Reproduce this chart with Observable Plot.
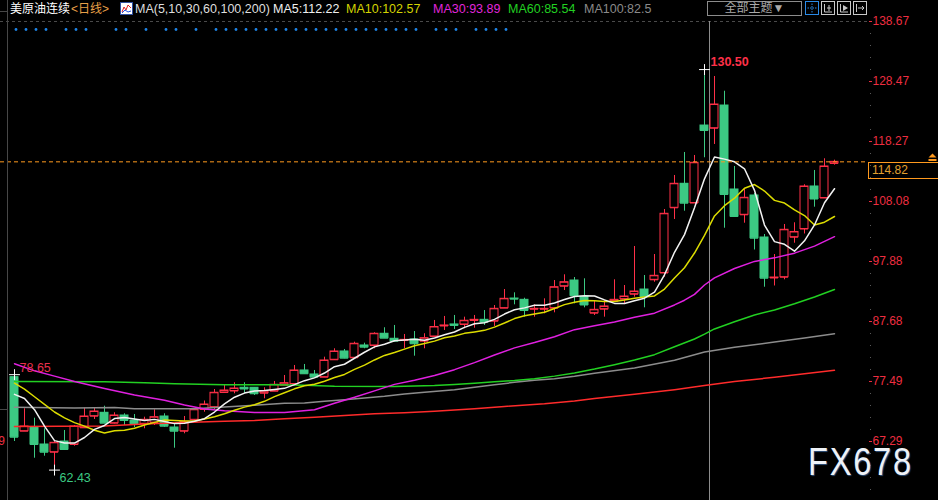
<!DOCTYPE html>
<html><head><meta charset="utf-8">
<script src="https://cdn.jsdelivr.net/npm/d3@7"></script>
<script src="https://cdn.jsdelivr.net/npm/@observablehq/plot@0.6"></script>
<style>
html,body{margin:0;padding:0;background:#000;}
#wrap{position:relative;width:938px;height:500px;overflow:hidden;background:#000;font-family:"Liberation Sans","Noto Sans CJK SC",sans-serif;}
#wrap svg{position:absolute;left:0;top:0;}
.ab{position:absolute;white-space:nowrap;}
.hdr{position:absolute;top:2px;font-size:12.5px;line-height:14px;white-space:nowrap;}
</style></head><body><div id="wrap"></div>
<script>
// ---------- data ----------
const open  = [78.22,69.04,69.72,66.78,65.47,67.29,66.78,69.62,71.59,72.17,70.40,71.71,70.86,70.30,70.50,71.54,69.67,69.04,70.98,72.73,73.12,75.62,75.87,76.42,76.42,75.50,75.84,76.86,77.06,79.36,78.68,78.22,81.18,82.59,81.52,83.61,83.61,85.60,84.75,84.45,84.63,84.34,85.14,86.92,87.18,87.18,87.86,87.97,87.74,89.95,91.59,91.37,89.78,89.78,89.95,93.68,94.65,91.88,89.10,89.78,91.14,91.48,92.32,93.12,94.77,95.93,107.01,111.09,107.82,120.99,120.53,124.39,110.12,105.82,109.10,101.96,95.08,95.21,102.01,103.40,110.63,108.67,114.55];
const high  = [78.65,72.85,71.25,69.45,67.35,69.16,70.01,72.95,72.95,73.29,72.17,72.00,71.88,71.42,72.68,72.00,70.30,71.54,72.73,74.17,76.13,76.81,77.27,77.27,76.47,76.42,77.49,78.51,80.21,80.38,79.36,81.62,83.05,82.93,84.17,84.00,85.77,86.62,87.01,85.48,85.98,85.60,87.86,88.54,88.71,88.42,88.71,89.55,90.40,93.12,92.56,91.64,90.52,91.54,94.65,95.62,95.16,94.94,91.25,91.25,94.77,93.80,100.43,95.50,99.07,106.72,112.50,116.41,115.90,130.50,129.32,126.82,114.03,110.24,109.44,102.47,99.07,104.17,104.46,110.92,113.35,115.34,115.10];
const low   = [67.29,69.00,64.45,64.79,62.43,65.77,66.49,69.50,71.03,70.35,70.27,70.01,69.67,69.45,70.01,69.72,66.15,68.60,70.81,72.27,72.68,75.50,75.40,75.45,75.11,74.55,75.79,76.81,76.98,78.76,78.12,78.17,81.14,81.35,81.40,83.05,83.05,84.80,84.17,83.05,81.79,83.05,85.05,86.16,86.33,86.45,86.55,87.01,86.84,89.89,90.52,88.42,88.42,88.99,89.16,92.95,90.69,90.01,88.71,88.42,91.08,90.69,91.82,90.01,94.36,95.21,105.02,106.43,107.74,115.51,117.77,103.54,105.45,104.39,99.84,93.51,93.72,94.77,100.99,102.56,107.11,108.59,114.25];
const close = [68.02,69.84,66.78,65.47,67.07,65.93,69.84,71.54,72.39,70.40,71.71,70.86,70.30,70.98,71.42,69.89,69.04,70.64,72.68,73.58,75.57,75.96,76.30,76.21,75.40,75.84,76.93,77.20,79.36,78.80,78.22,81.06,82.59,81.45,83.90,83.32,85.60,84.85,84.34,84.57,83.90,84.85,86.75,87.01,87.01,87.81,87.97,87.57,89.84,91.54,91.48,89.55,89.84,89.84,93.51,94.36,92.05,90.49,89.67,90.24,91.37,91.93,92.78,91.93,95.45,105.99,111.09,107.79,114.66,120.14,124.56,109.27,105.53,108.71,101.84,95.04,95.16,103.27,102.90,110.63,108.50,114.03,114.82];

const ma5  = [75.3,74.6,72.7,69.9,67.44,67.02,67.02,67.97,69.35,70.02,71.18,71.38,71.13,70.85,71.05,70.69,70.33,70.39,70.73,71.17,72.30,73.69,74.82,75.52,75.89,75.94,76.14,76.32,76.95,77.63,78.10,78.93,80.01,80.42,81.44,82.46,83.37,83.82,84.40,84.54,84.65,84.50,84.88,85.42,85.90,86.69,87.31,87.47,88.04,88.95,89.68,90.00,90.45,90.45,90.84,91.42,91.92,92.05,92.02,91.36,90.76,90.74,91.20,91.65,92.69,95.62,99.45,102.45,107.00,111.93,115.65,115.28,114.83,113.64,109.98,104.08,101.26,100.80,99.64,101.40,104.09,107.86,110.25];
const ma10 = [77.2,76.2,74.9,73.6,72.3,71.3,70.5,69.9,69.2,68.73,69.10,69.20,69.55,70.10,70.54,70.93,70.85,70.76,70.79,71.11,71.50,72.01,72.61,73.13,73.53,74.12,74.91,75.57,76.24,76.76,77.02,77.53,78.16,78.69,79.54,80.28,81.15,81.92,82.41,82.99,83.56,83.94,84.35,84.91,85.22,85.67,85.91,86.18,86.73,87.43,88.18,88.65,88.96,89.25,89.90,90.55,90.96,91.25,91.23,91.10,91.09,91.33,91.62,91.83,92.03,93.19,95.09,96.82,99.32,102.31,105.63,107.37,108.64,110.32,110.96,109.86,108.27,107.82,106.64,105.69,104.08,104.56,105.53];
const ma30  = [[0,80.5],[2,79.3],[4,78.4],[6,77.5],[9,76.3],[12,75.2],[15,74.3],[17,73.5],[19,72.8],[21,72.5],[24,72.2],[27,72.2],[30,72.7],[32,73.8],[34,74.8],[36,75.9],[38,77.0],[40,77.7],[42,78.5],[44,79.5],[46,80.7],[48,82.0],[50,83.2],[52,84.1],[54,85.1],[56,86.3],[58,86.95],[60,87.6],[62,88.4],[64,89.1],[66,90.5],[67,91.3],[68,92.3],[69,93.89],[70,95.1],[72,96.7],[74,97.9],[76,98.5],[78,99.3],[80,100.5],[81,101.3],[82,102.1]];
const ma60  = [[0,77.49],[9,77.45],[13,77.27],[16,77.12],[21,76.95],[26,76.93],[29,76.85],[32,76.68],[38,76.64],[42,76.81],[44,76.98],[46,77.2],[48,77.45],[50,77.66],[52,77.95],[54,78.4],[56,78.95],[58,79.6],[60,80.34],[62,81.14],[64,82.05],[66,83.40],[68,84.71],[69,85.54],[70,86.42],[72,87.65],[74,88.79],[76,89.65],[78,90.69],[80,91.86],[82,93.13]];
const ma100 = [[0,73.09],[6,72.97],[10,73.05],[12,72.86],[18,72.86],[21,73.14],[24,73.43],[27,73.77],[29,73.85],[31,74.11],[33,74.40],[35,74.67],[37,74.96],[39,75.35],[41,75.64],[44,76.10],[46,76.49],[48,76.95],[50,77.34],[52,77.68],[54,77.97],[56,78.36],[58,78.9],[62,79.8],[66,81.1],[69,82.5],[72,83.3],[76,84.2],[79,84.9],[82,85.6]];
const ma200 = [[0,69.84],[9,69.93],[13,70.27],[17,70.52],[21,70.74],[24,70.86],[27,71.15],[30,71.42],[33,71.71],[36,72.00],[39,72.17],[42,72.44],[46,72.85],[49,73.24],[53,73.70],[56,74.17],[58,74.6],[62,75.3],[66,76.1],[69,76.8],[72,77.5],[76,78.2],[79,78.8],[82,79.4]];

const yTicks = [67.29, 77.49, 87.68, 97.88, 108.08, 118.27, 128.47, 138.67];
const signalIdx = [0,1,2,3,5,6,7,10,11,13,15,16,18,20,21,22,23,24,25,26,27,28,29,30,31,32,33,34,35,36,37,38,39,40,42,43,44,46,47,48,49];
const extremes = [{i:69, v:130.50}, {i:0, v:78.65}, {i:4, v:62.43}];
const lastPrice = 114.82;
const crossIndex = 69.5;
const title = "美原油连续", period = "<日线>", maSpec = "MA(5,10,30,60,100,200)";
const legendItems = [
  {t:"MA5:112.22", c:"#f0f0f0", x:273},
  {t:"MA10:102.57", c:"#d4d400", x:346},
  {t:"MA30:93.89", c:"#e026dc", x:433},
  {t:"MA60:85.54", c:"#22d022", x:508},
  {t:"MA100:82.5", c:"#8a8a8a", x:584}
];

// ---------- chart ----------
const RED = "#ff3048", GREEN = "#3cc983", AXIS = "#ee2e40";
const candles = open.map((o, i) => ({i, o, h: high[i], l: low[i], c: close[i], up: close[i] >= o}));
const minorTicks = [];
for (let j = 0; j < yTicks.length - 1; j++) {
  const a = yTicks[j], b = yTicks[j + 1];
  for (let s = 1; s < 5; s++) minorTicks.push(a + (b - a) * s / 5);
}
const step = (yTicks[1] - yTicks[0]) / 5;
for (let s = 1; s <= 5; s++) minorTicks.push(yTicks[0] - step * s);

const W = 0.4;

const plot = Plot.plot({
  width: 938, height: 500,
  marginLeft: 14, marginRight: 72, marginTop: 21, marginBottom: 59,
  style: {background: "#000", color: AXIS, fontFamily: "Liberation Sans, sans-serif", fontSize: "12px", overflow: "visible"},
  x: {domain: [0, 85.2], axis: null},
  y: {domain: [yTicks[0], yTicks[yTicks.length - 1]]},
  marks: [
    Plot.ruleY([yTicks[yTicks.length - 1]], {stroke: "#4a4a4a", strokeDasharray: "3,3", insetLeft: -14, insetRight: -2}),
    Plot.ruleX([crossIndex], {stroke: "#8c8c8c", insetBottom: -59}),
    Plot.dot(signalIdx, {x: d => d, frameAnchor: "top", dy: 8, dx: 1.5, r: 1.4, fill: "#1f84e6"}),
    Plot.axisY(yTicks, {anchor: "right", tickSize: 3, tickPadding: 1, dx: 2, tickFormat: d => d.toFixed(2), label: null, color: AXIS, fill: AXIS, stroke: AXIS}),
    Plot.ruleY(minorTicks, {x1: 85.6, x2: 85.7, stroke: "#5a5a5a"}),
    // candles
    Plot.ruleX(candles, {x: "i", y1: "l", y2: "h", stroke: d => d.up ? RED : GREEN}),
    Plot.rect(candles, {x1: d => d.i - W, x2: d => d.i + W, y1: "o", y2: "c", fill: d => d.up ? "#000" : GREEN, stroke: d => d.up ? RED : GREEN}),
    Plot.ruleY(candles, {x1: d => d.i - W, x2: d => d.i + W, y: "c", stroke: d => d.up ? RED : GREEN}),
    Plot.ruleY(candles, {x1: d => d.i - W, x2: d => d.i + W, y: "o", stroke: d => d.up ? RED : GREEN}),
    // moving averages
    Plot.line(ma200, {x: d => d[0], y: d => d[1], stroke: "#ff2b2b"}),
    Plot.line(ma100, {x: d => d[0], y: d => d[1], stroke: "#8c8c8c"}),
    Plot.line(ma60, {x: d => d[0], y: d => d[1], stroke: "#22d022"}),
    Plot.line(ma30, {x: d => d[0], y: d => d[1], stroke: "#e020e0"}),
    Plot.line(ma10.map((v, i) => [i, v]), {x: d => d[0], y: d => d[1], stroke: "#dcdc00"}),
    Plot.line(ma5.map((v, i) => [i, v]), {x: d => d[0], y: d => d[1], stroke: "#f2f2f2"}),
    // last price line
    Plot.ruleY([lastPrice], {stroke: "#ff9a1e", strokeDasharray: "4,3", insetLeft: -14, insetRight: -2}),
    // extremes
    Plot.dot(extremes, {x: "i", y: "v", symbol: "plus", r: 3.6, stroke: "#ffffff", strokeWidth: 1}),
    Plot.text([extremes[0]], {x: "i", y: "v", text: d => d.v.toFixed(2), dx: 6, dy: -8, textAnchor: "start", fill: "#ff3048", fontWeight: "bold", fontSize: 12.5}),
    Plot.text([extremes[1]], {x: "i", y: "v", text: d => d.v.toFixed(2), dx: 5, dy: -7, textAnchor: "start", fill: "#e8304c", fontSize: 12.5}),
    Plot.text([extremes[2]], {x: "i", y: "v", text: d => d.v.toFixed(2), dx: 5, dy: 8, textAnchor: "start", fill: "#3cc983", fontSize: 12.5})
  ]
});

const wrap = document.getElementById("wrap");
wrap.appendChild(plot);
const ys = plot.scale("y");

function add(html) { wrap.insertAdjacentHTML("beforeend", html); }

// left border
add(`<div class="ab" style="left:7px;top:0;width:1px;height:500px;background:#474747"></div>`);
add(`<div class="ab" style="left:0;top:11px;width:7px;height:1px;background:#474747"></div>`);
add(`<div class="ab" style="left:0;top:409px;width:7px;height:1px;background:#474747"></div>`);
add(`<div class="ab" style="right:933px;top:${Math.round(ys.apply(yTicks[0])) - 7}px;font-size:12px;line-height:14px;color:${AXIS}">${yTicks[0].toFixed(2)}</div>`);

// header
add(`<div class="hdr" style="left:10px;color:#fff;font-size:12px">${title}</div>`);
add(`<div class="hdr" style="left:71px;color:#e8a048;font-size:12px">${period.replace("<","&lt;").replace(">","&gt;")}</div>`);
add(`<svg class="ab" style="left:120px;top:2px" width="13" height="13"><rect x="0.5" y="0.5" width="12" height="12" fill="#fff" stroke="#3050a0"/><polyline points="2,10 4,5 6,8 8,3 11,6" fill="none" stroke="#e02020"/><polyline points="2,11 5,8 8,10 11,9" fill="none" stroke="#2050e0"/></svg>`);
add(`<div class="hdr" style="left:135px;color:#dedede">${maSpec}</div>`);
legendItems.forEach(d => add(`<div class="hdr" style="left:${d.x}px;color:${d.c}">${d.t}</div>`));

// toolbar
add(`<div class="ab" style="left:707px;top:1px;width:93px;height:13px;border:1px solid #8c8c8c;color:#aaa;font-size:12px;line-height:13px;text-align:center">全部主题▼</div>`);
add(`<svg class="ab" style="left:805px;top:1px" width="62" height="14">
<rect x="0.5" y="0.5" width="13" height="13" fill="none" stroke="#2a8ae6"/>
<path d="M7 2.5V11.5M2.5 7H11.5" stroke="#2a8ae6" stroke-dasharray="1.5,1"/>
<rect x="16.5" y="0.5" width="13" height="13" fill="none" stroke="#c8c8c8"/>
<path d="M19.5 3V11M19.5 11H27M22 7H26M24 4V10" stroke="#c8c8c8" fill="none"/>
<rect x="32.5" y="0.5" width="13" height="13" fill="none" stroke="#c8c8c8"/>
<path d="M35.5 3V11M35.5 11H43" stroke="#c8c8c8" fill="none"/><path d="M38 4L43 7L38 10Z" fill="#c8c8c8"/>
<rect x="48.5" y="0.5" width="13" height="13" fill="none" stroke="#c8c8c8"/>
<path d="M51.5 3V11M53 7H59M57 5L59 7L57 9" stroke="#c8c8c8" fill="none"/>
</svg>`);

// last price box
const yp = ys.apply(lastPrice);
add(`<div class="ab" style="left:868px;top:${Math.round(yp) + 1}px;width:66px;height:15px;border:1px solid #ff9a1e;color:#e0a030;font-size:12px;line-height:15px;padding-left:3px">${lastPrice.toFixed(2)}</div>`);
add(`<svg class="ab" style="left:928px;top:${Math.round(yp) - 8}px" width="9" height="9"><path d="M0.5 4.5L4.5 0.5L8.5 4.5Z" fill="#ff9a1e"/><rect x="0.5" y="6" width="8" height="2" fill="#ff9a1e"/></svg>`);

// watermark
add(`<div class="ab" style="left:808px;top:449px;font-size:38px;line-height:27px;height:28px;color:#eef2f7;transform:scaleX(0.86);transform-origin:left top;letter-spacing:2px;text-shadow:1px 1px 1px #2d4e78">FX678</div>`);
</script></body></html>
